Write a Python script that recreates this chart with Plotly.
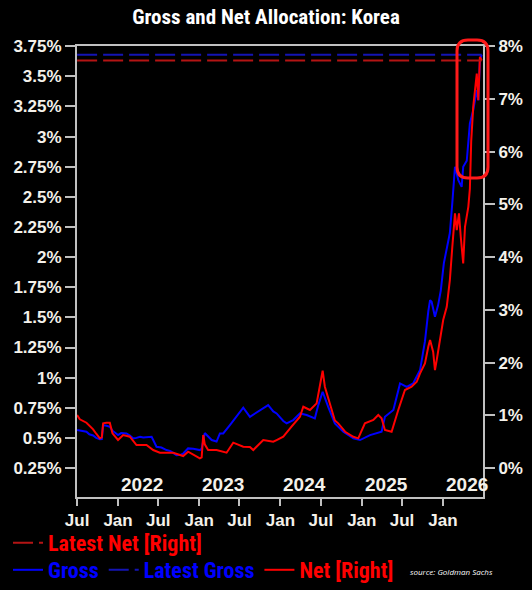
import plotly.graph_objects as go

# ---------------- data ----------------
gross_dates = [
    "2021-07-01", "2021-07-20", "2021-08-12", "2021-08-25", "2021-09-11", "2021-09-25",
    "2021-10-11", "2021-10-20", "2021-10-26", "2021-11-10", "2021-11-25", "2021-12-07",
    "2022-01-01", "2022-01-15", "2022-02-08", "2022-02-23", "2022-03-10", "2022-03-25",
    "2022-04-10", "2022-04-24", "2022-05-15", "2022-06-01", "2022-06-23", "2022-07-15",
    "2022-08-07", "2022-08-25", "2022-09-21", "2022-10-10", "2022-10-21", "2022-11-12",
    "2022-12-05", "2023-01-04", "2023-01-12", "2023-01-26", "2023-02-26", "2023-03-20",
    "2023-04-04", "2023-04-19", "2023-05-19", "2023-06-18", "2023-07-05", "2023-07-18",
    "2023-08-17", "2023-09-23", "2023-10-15", "2023-11-07", "2023-11-30", "2023-12-15",
    "2024-01-14", "2024-01-29", "2024-02-28", "2024-03-29", "2024-04-28", "2024-06-04",
    "2024-06-19", "2024-07-09", "2024-08-03", "2024-09-02", "2024-10-10", "2024-11-24",
    "2024-12-24", "2025-02-07", "2025-03-31", "2025-04-15", "2025-05-23", "2025-06-22",
    "2025-07-22", "2025-08-20", "2025-09-20", "2025-10-12", "2025-10-27", "2025-11-04",
    "2025-11-11", "2025-11-26", "2025-12-10", "2025-12-22", "2026-01-05", "2026-02-01",
    "2026-02-12", "2026-02-24", "2026-03-11", "2026-03-26", "2026-04-02", "2026-04-18",
    "2026-05-02", "2026-05-17", "2026-06-02", "2026-06-09", "2026-06-16", "2026-06-24",
]
gross_values = [
    0.565, 0.56, 0.551, 0.53, 0.52, 0.50,
    0.488, 0.49, 0.606, 0.60, 0.592, 0.56,
    0.523, 0.54, 0.537, 0.52, 0.496, 0.50,
    0.51, 0.504, 0.51, 0.509, 0.426, 0.42,
    0.399, 0.39, 0.357, 0.36, 0.37, 0.413,
    0.41, 0.399, 0.41, 0.54, 0.482, 0.47,
    0.537, 0.537, 0.606, 0.675, 0.72, 0.75,
    0.675, 0.717, 0.74, 0.772, 0.72, 0.703,
    0.64, 0.62, 0.648, 0.703, 0.69, 0.662,
    0.77, 0.883, 0.758, 0.62, 0.551, 0.496,
    0.482, 0.523, 0.551, 0.675, 0.731, 0.952,
    0.924, 0.952, 1.063, 1.30, 1.55, 1.643,
    1.629, 1.505, 1.60, 1.72, 1.95, 2.20,
    2.45, 2.75, 2.639, 2.583, 2.749, 2.80,
    3.109, 3.219, 3.385, 3.302, 3.634, 3.68,
]

net_dates = [
    "2021-07-01", "2021-07-13", "2021-08-12", "2021-09-11", "2021-09-25", "2021-10-11",
    "2021-10-20", "2021-10-26", "2021-11-10", "2021-11-25", "2021-12-07", "2022-01-01",
    "2022-01-24", "2022-02-23", "2022-03-25", "2022-05-09", "2022-06-08", "2022-07-08",
    "2022-09-06", "2022-10-21", "2022-11-12", "2023-01-04", "2023-01-12", "2023-01-19",
    "2023-01-26", "2023-02-10", "2023-03-20", "2023-05-04", "2023-06-03", "2023-07-18",
    "2023-08-17", "2023-09-01", "2023-10-16", "2023-11-30", "2023-12-15", "2024-01-14",
    "2024-02-20", "2024-03-29", "2024-04-13", "2024-05-13", "2024-06-12", "2024-06-25",
    "2024-07-09", "2024-07-19", "2024-08-11", "2024-09-02", "2024-09-17", "2024-10-18",
    "2024-11-24", "2024-12-16", "2025-01-15", "2025-02-22", "2025-03-16", "2025-03-31",
    "2025-04-15", "2025-05-15", "2025-06-14", "2025-07-14", "2025-08-13", "2025-09-05",
    "2025-09-20", "2025-10-12", "2025-10-27", "2025-11-04", "2025-11-18", "2025-11-26",
    "2025-12-04", "2025-12-18", "2026-01-02", "2026-01-18", "2026-02-01", "2026-02-12",
    "2026-02-24", "2026-03-04", "2026-03-14", "2026-03-22", "2026-04-02", "2026-04-10",
    "2026-04-25", "2026-05-02", "2026-05-08", "2026-05-17", "2026-06-02", "2026-06-09",
    "2026-06-16", "2026-06-24",
]
net_values = [
    1.005, 0.923, 0.859, 0.734, 0.65, 0.563,
    0.58, 0.847, 0.86, 0.859, 0.658, 0.531,
    0.626, 0.593, 0.436, 0.436, 0.341, 0.29,
    0.29, 0.227, 0.309, 0.184, 0.20, 0.626,
    0.45, 0.341, 0.341, 0.29, 0.48, 0.404,
    0.40, 0.341, 0.531, 0.499, 0.53, 0.593,
    0.783, 0.973, 1.162, 1.10, 1.226, 1.50,
    1.845, 1.541, 1.226, 0.90, 0.847, 0.688,
    0.593, 0.562, 0.847, 0.91, 1.005, 0.942,
    0.72, 0.688, 1.10, 1.479, 1.541, 1.636,
    1.795, 1.985, 2.30, 2.427, 2.20, 1.858,
    2.05, 2.427, 2.806, 3.058, 3.564, 4.195,
    4.828, 4.51, 4.83, 4.386, 3.881, 4.575,
    4.954, 5.30, 6.20, 6.849, 7.482, 6.976,
    7.797, 7.73,
]

latest_gross = gross_values[-1]
latest_net = net_values[-1]

left_tickvals = [0.25, 0.5, 0.75, 1.0, 1.25, 1.5, 1.75, 2.0, 2.25, 2.5, 2.75, 3.0, 3.25, 3.5, 3.75]
left_ticktext = ["0.25%", "0.5%", "0.75%", "1%", "1.25%", "1.5%", "1.75%", "2%", "2.25%",
                 "2.5%", "2.75%", "3%", "3.25%", "3.5%", "3.75%"]
right_tickvals = [0, 1, 2, 3, 4, 5, 6, 7, 8]
right_ticktext = ["0%", "1%", "2%", "3%", "4%", "5%", "6%", "7%", "8%"]
x_tickvals = ["2021-07-01", "2022-01-01", "2022-07-01", "2023-01-01", "2023-07-01",
              "2024-01-01", "2024-07-01", "2025-01-01", "2025-07-01", "2026-01-01"]
x_ticktext = ["Jul", "Jan", "Jul", "Jan", "Jul", "Jan", "Jul", "Jan", "Jul", "Jan"]
year_labels = ["2022", "2023", "2024", "2025", "2026"]
year_positions = ["2022-01-01", "2023-01-01", "2024-01-01", "2025-01-01", "2026-01-01"]

# ---------------- style ----------------
NARROW = "Roboto Condensed, Liberation Sans Narrow, Arial Narrow, sans-serif"
TICKFONT = "Liberation Sans, Arial, sans-serif"
AXIS_GREY = "#c0c0c0"
TICK_TXT = "#f4f1ea"
BLUE = "#0000ff"
RED = "#ff0000"
DARK_BLUE = "#1414b4"
DARK_RED = "#b41414"

W, H = 532, 590
ML, MR, MT, MB = 77, 49, 46, 93
PW, PH = W - ML - MR, H - MT - MB


def px_x(p):
    return (p - ML) / PW


def px_y(p):
    return (H - MB - p) / PH


fig = go.Figure()

fig.add_trace(go.Scatter(
    x=gross_dates, y=gross_values, mode="lines", name="Gross",
    line=dict(color=BLUE, width=2), yaxis="y", legend="legend2"))
fig.add_trace(go.Scatter(
    x=[gross_dates[0], gross_dates[-1]], y=[latest_gross, latest_gross], mode="lines",
    name="Latest Gross", line=dict(color=DARK_BLUE, width=2, dash="20px,6px"),
    yaxis="y", legend="legend2"))
fig.add_trace(go.Scatter(
    x=net_dates, y=net_values, mode="lines",
    name="<span style='color:#ff0000'>Net [Right]</span>",
    line=dict(color=RED, width=2), yaxis="y2", legend="legend2"))
fig.add_trace(go.Scatter(
    x=[net_dates[0], net_dates[-1]], y=[latest_net, latest_net], mode="lines",
    name="Latest Net [Right]", line=dict(color=DARK_RED, width=2, dash="20px,6px"),
    yaxis="y2", legend="legend"))

annotations = []
for lab, pos in zip(year_labels, year_positions):
    annotations.append(dict(
        x=pos, y=px_y(484), xref="x", yref="paper", text=lab, showarrow=False,
        xanchor="left", yanchor="middle", xshift=1,
        font=dict(family=TICKFONT, size=19, color=TICK_TXT, weight="bold")))
annotations.append(dict(
    x=px_x(408), y=px_y(571), xref="paper", yref="paper",
    text="<i>source: Goldman Sachs</i>", showarrow=False,
    xanchor="left", yanchor="middle",
    font=dict(family="Open Sans, sans-serif", size=8, color="#ffffff")))

# highlight rounded rectangle (paper coords)
x0, x1 = px_x(457), px_x(488)
y1, y0 = px_y(40), px_y(178)
rx, ry = 11 / PW, 11 / PH
path = (f"M {x0+rx},{y1} L {x1-rx},{y1} Q {x1},{y1} {x1},{y1-ry} "
        f"L {x1},{y0+ry} Q {x1},{y0} {x1-rx},{y0} L {x0+rx},{y0} "
        f"Q {x0},{y0} {x0},{y0+ry} L {x0},{y1-ry} Q {x0},{y1} {x0+rx},{y1} Z")

fig.update_layout(
    width=W, height=H,
    margin=dict(l=ML, r=MR, t=MT, b=MB, autoexpand=False),
    paper_bgcolor="#000000", plot_bgcolor="#000000",
    title=dict(text="Gross and Net Allocation: Korea", x=0.5, xref="container",
               y=1 - 17 / H, yref="container", xanchor="center", yanchor="middle",
               font=dict(family=NARROW, size=21, color="#ffffff", weight="bold")),
    xaxis=dict(
        type="date", range=["2021-06-30 12:00", "2026-06-30"],
        tickvals=x_tickvals, ticktext=x_ticktext,
        ticks="outside", ticklen=7, tickwidth=2, tickcolor=AXIS_GREY,
        showline=True, linecolor=AXIS_GREY, linewidth=2, mirror=True,
        showgrid=False, zeroline=False,
        tickfont=dict(family=TICKFONT, size=17, color=TICK_TXT, weight="bold")),
    yaxis=dict(
        range=[0.0095, 3.752], tickvals=left_tickvals, ticktext=left_ticktext,
        ticks="outside", ticklen=10, tickwidth=2, tickcolor=AXIS_GREY,
        showline=True, linecolor=AXIS_GREY, linewidth=2,
        showgrid=False, zeroline=False,
        tickfont=dict(family=TICKFONT, size=17, color=TICK_TXT, weight="bold")),
    yaxis2=dict(
        range=[-0.55, 8.004], overlaying="y", side="right",
        tickvals=right_tickvals, ticktext=right_ticktext,
        ticks="outside", ticklen=10, tickwidth=2, tickcolor=AXIS_GREY,
        showline=True, linecolor=AXIS_GREY, linewidth=2,
        showgrid=False, zeroline=False,
        tickfont=dict(family=TICKFONT, size=17, color=TICK_TXT, weight="bold")),
    legend=dict(
        orientation="h", xref="container", yref="container",
        x=8 / W, y=1 - 543 / H, xanchor="left", yanchor="middle",
        bgcolor="rgba(0,0,0,0)", itemwidth=30,
        font=dict(family=NARROW, size=22, color=RED, weight="bold")),
    legend2=dict(
        orientation="h", xref="container", yref="container",
        x=8 / W, y=1 - 570 / H, xanchor="left", yanchor="middle",
        bgcolor="rgba(0,0,0,0)", itemwidth=30,
        font=dict(family=NARROW, size=22, color=BLUE, weight="bold")),
    annotations=annotations,
    shapes=[dict(type="path", path=path, xref="paper", yref="paper",
                 line=dict(color="#ff1a1a", width=3), layer="above")],
    showlegend=True,
)

fig.write_html("out.html")
